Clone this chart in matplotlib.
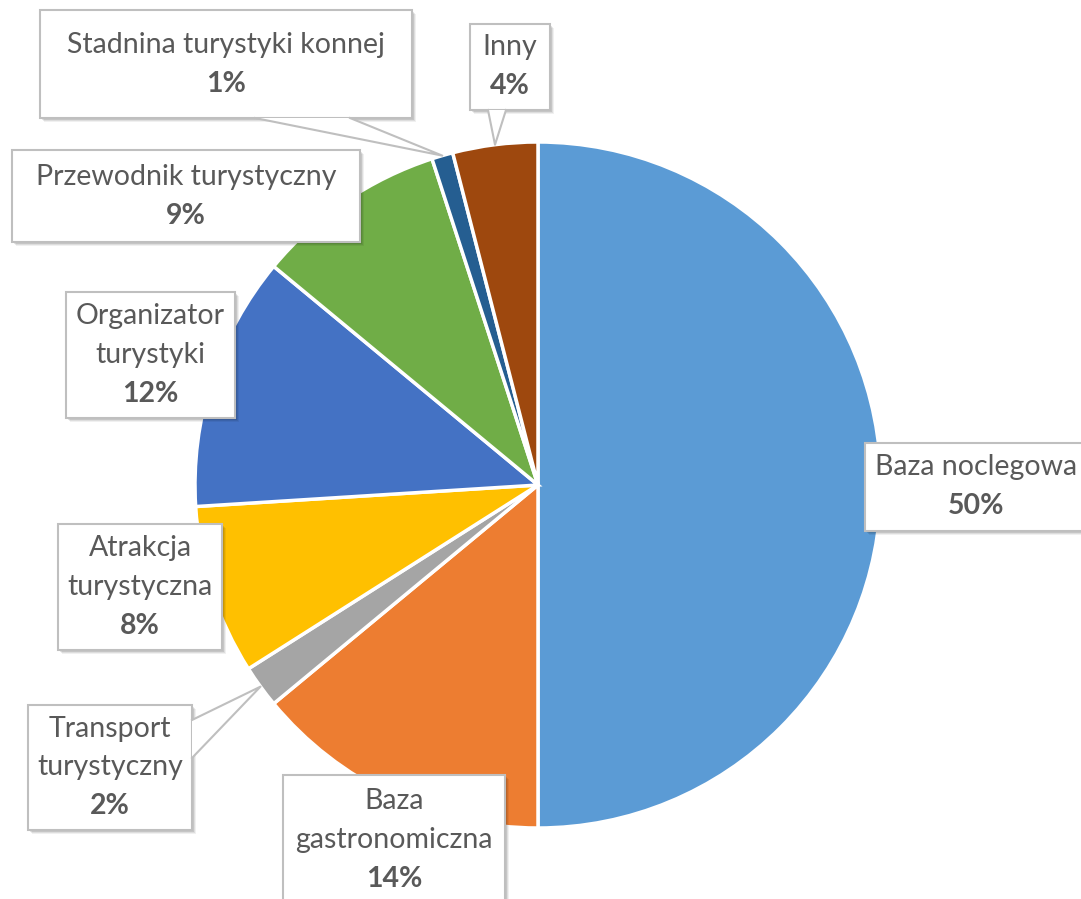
import numpy as np
import matplotlib
matplotlib.use("Agg")
import matplotlib.pyplot as plt
from matplotlib.patches import Rectangle, Polygon

plt.rcParams['font.family'] = ['Lato', 'DejaVu Sans']

categories = ["Baza noclegowa", "Baza\ngastronomiczna", "Transport\nturystyczny",
              "Atrakcja\nturystyczna", "Organizator\nturystyki", "Przewodnik turystyczny",
              "Stadnina turystyki konnej", "Inny"]
shares = [50, 14, 2, 8, 12, 9, 1, 4]
colors = ["#5B9BD5", "#ED7D31", "#A5A5A5", "#FFC000", "#4472C4", "#70AD47", "#255E91", "#9E480E"]

# label boxes in pixel space: (left, top, width, height)
boxes = [(865, 443, 230, 88), (283, 775, 222, 130), (28, 705, 164, 125),
         (58, 524, 164, 126), (66, 292, 169, 126), (12, 150, 348, 92),
         (40, 10, 372, 108), (470, 24, 80, 86)]
# callout pointers: base points on the box edge
pointers = {2: [(192, 720), (192, 758)],
            6: [(255, 118), (350, 118)],
            7: [(488, 110), (506, 110)]}

W, H = 1081, 899
cx, cy, R = 538, 485, 343
text_col = "#595959"
edge_col = "#BFBFBF"

fig = plt.figure(figsize=(W / 100, H / 100), dpi=100)
ax = fig.add_axes([0, 0, 1, 1])
ax.set_xlim(0, W)
ax.set_ylim(H, 0)
ax.set_aspect("equal")
ax.axis("off")

# y axis is flipped, so counterclock=True runs clockwise on screen
wedges, _ = ax.pie(shares, colors=colors, center=(cx, cy), radius=R,
                   startangle=-90, counterclock=True,
                   wedgeprops=dict(edgecolor="white", linewidth=2.5))
ax.set_xlim(0, W)
ax.set_ylim(H, 0)

for i, (name, val) in enumerate(zip(categories, shares)):
    x0, y0, bw, bh = boxes[i]
    # soft drop shadow
    for k, a in enumerate([0.10, 0.08, 0.06]):
        ax.add_patch(Rectangle((x0 + 2 + k, y0 + 2 + k), bw, bh, facecolor="#000000",
                               edgecolor="none", alpha=a, zorder=5))
    ax.add_patch(Rectangle((x0, y0), bw, bh, facecolor="white", edgecolor=edge_col,
                           linewidth=1.5, zorder=6))
    if i in pointers:
        w = wedges[i]
        mid = np.deg2rad((w.theta1 + w.theta2) / 2)
        tip = (cx + R * np.cos(mid), cy + R * np.sin(mid))
        (ax1, ay1), (ax2, ay2) = pointers[i]
        ax.add_patch(Polygon([(ax1, ay1), tip, (ax2, ay2)], closed=True,
                             facecolor="white", edgecolor="none", zorder=7))
        ax.plot([ax1, tip[0], ax2], [ay1, tip[1], ay2], color=edge_col,
                linewidth=1.5, zorder=7)
    lines = name.split("\n")
    n = len(lines) + 1
    step = 39
    ymid = y0 + bh / 2
    first = ymid - step * (n - 1) / 2
    tx = x0 + bw / 2 if i != 0 else x0 + 111
    for j, ln in enumerate(lines):
        ax.text(tx, first + j * step, ln, ha="center", va="center",
                fontsize=20.5, color=text_col, zorder=8)
    ax.text(tx, first + (n - 1) * step, f"{val}%", ha="center", va="center",
            fontsize=20.5, fontweight="bold", color=text_col, zorder=8)

fig.savefig("out.png", dpi=100)
